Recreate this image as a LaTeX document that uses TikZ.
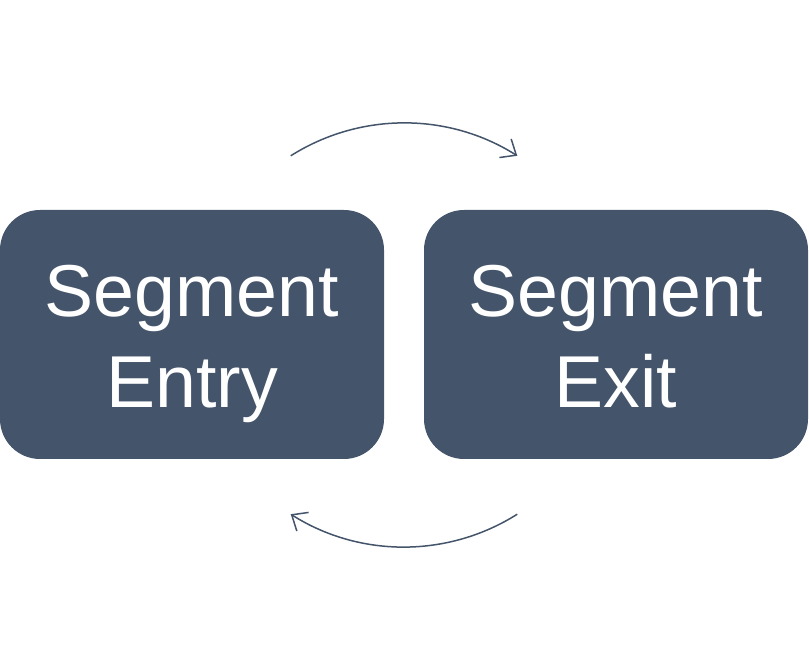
\documentclass[tikz,border=0pt]{standalone}
\usepackage{fontspec}
\setmainfont{Liberation Sans}
\usetikzlibrary{arrows.meta,calc}
\definecolor{slate}{HTML}{44546A}
\newcommand{\toprule}{\rule{0pt}{76pt}}
\newcommand{\botrule}{\rule[-20pt]{0pt}{0pt}}
\tikzset{
  segbox/.style={fill=slate, draw=none, rounded corners=40pt, minimum width=384pt, minimum height=249pt,
    text=white, align=center, inner sep=0pt, font=\fontsize{73.5}{91}\selectfont},
  cycleconn/.style={draw=slate, line width=1.5pt, -{Straight Barb[length=13pt,width=22pt,line width=1.5pt]}}
}
\begin{document}
\begin{tikzpicture}[x=1pt,y=1pt]
\useasboundingbox (0,0) rectangle (809,671);
\node[segbox] (entry) at (192,336.5) {\toprule Segment\\Entry\botrule};
\node[segbox] (exit) at (616,336.5) {\toprule Segment\\Exit\botrule};
\coordinate (c) at (404,336);
\coordinate (topstart) at ($(c)+(122.3:212)$);
\coordinate (botstart) at ($(c)+(-57.7:212)$);
\draw[cycleconn] (topstart) arc[start angle=122.3, end angle=57.7, radius=212];
\draw[cycleconn] (botstart) arc[start angle=-57.7, end angle=-122.3, radius=212];
\end{tikzpicture}
\end{document}
